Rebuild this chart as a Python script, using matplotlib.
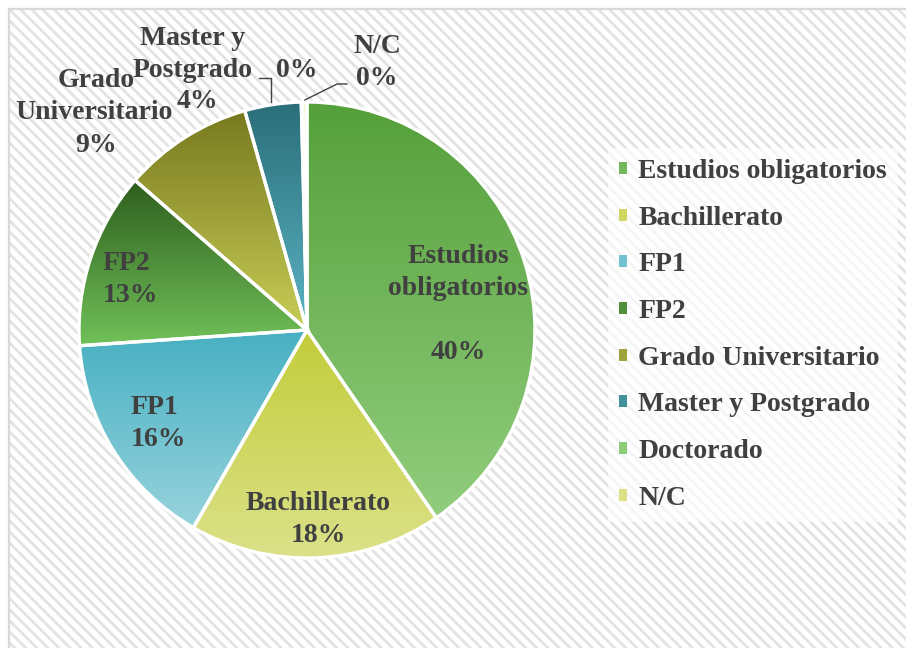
import numpy as np
import matplotlib
matplotlib.use("Agg")
import matplotlib.pyplot as plt
from matplotlib.patches import Rectangle, Patch
from matplotlib.colors import LinearSegmentedColormap, to_rgb

# data (percent of respondents)
categories = ["Estudios obligatorios", "Bachillerato", "FP1", "FP2",
              "Grado Universitario", "Master y Postgrado", "Doctorado", "N/C"]
shares = [40.4, 17.9, 15.6, 12.5, 9.2, 4.0, 0.1, 0.3]
pct_labels = ["40%", "18%", "16%", "13%", "9%", "4%", "0%", "0%"]

# gradient colours per slice (top -> bottom)
top_colors = ["#55a03b", "#c3cd3a", "#47b0c2", "#2e5e1e",
              "#77791f", "#2a6e79", "#7cc467", "#d4dc6e"]
bottom_colors = ["#91cd7d", "#dbe189", "#97d3dd", "#71c159",
                 "#c9cd56", "#5cb4c4", "#9bd689", "#e1e69a"]

plt.rcParams["font.family"] = ["Liberation Serif", "DejaVu Serif"]
plt.rcParams["font.weight"] = "bold"
plt.rcParams["hatch.color"] = "#e3e3e3"
plt.rcParams["hatch.linewidth"] = 2.0
text_color = "#404040"

W, H = 906, 648
fig = plt.figure(figsize=(W / 100, H / 100), dpi=100)
fig.patch.set_facecolor("white")

# hatched chart area + light frame
fig.patches.append(Rectangle((9 / W, -0.01), 1.0, (H - 9) / H + 0.01,
                             transform=fig.transFigure, facecolor="white",
                             edgecolor="#e3e3e3", hatch="\\\\\\", lw=0, zorder=-3))
fig.patches.append(Rectangle((9 / W, -0.01), 1.0, (H - 9) / H + 0.01,
                             transform=fig.transFigure, facecolor="none",
                             edgecolor="#d9d9d9", lw=1.6, zorder=-2))

# pie axes: centre (307, 330) px, radius 228 px
cx, cy, r = 307, 330, 228
ax = fig.add_axes([(cx - r) / W, (H - cy - r) / H, 2 * r / W, 2 * r / H])
ax.set_axis_off()
ax.patch.set_alpha(0)

wedges, _ = ax.pie(shares, startangle=90, counterclock=False, radius=1,
                   wedgeprops=dict(edgecolor="white", linewidth=2.4))

grad = np.linspace(0, 1, 256).reshape(-1, 1)
for w, c0, c1 in zip(wedges, top_colors, bottom_colors):
    t = np.radians(np.linspace(w.theta1, w.theta2, 200))
    xs = np.concatenate([[0], np.cos(t)])
    ys = np.concatenate([[0], np.sin(t)])
    cmap = LinearSegmentedColormap.from_list("g", [c0, c1])
    im = ax.imshow(grad, cmap=cmap, aspect="auto", origin="upper",
                   extent=[xs.min(), xs.max(), ys.min(), ys.max()], zorder=2)
    im.set_clip_path(w)
    w.set_facecolor("none")
    w.set_zorder(3)

ax.set_xlim(-1, 1)
ax.set_ylim(-1, 1)

lab = dict(color=text_color, fontsize=20, fontweight="bold", linespacing=1.36,
           va="center", zorder=5)
ax.text(0.662, 0.112, "Estudios\nobligatorios\n\n" + pct_labels[0], ha="center", **lab)
ax.text(0.048, -0.83, "Bachillerato\n" + pct_labels[1], ha="center", **lab)
ax.text(-0.772, -0.41, "FP1\n" + pct_labels[2], ha="left", **lab)
ax.text(-0.895, 0.222, "FP2\n" + pct_labels[3], ha="left", **lab)
# outer labels on the crowded top-left, one text per line
ax.text(-0.925, 1.094, "Grado", ha="center", **lab)
ax.text(-0.935, 0.954, "Universitario", ha="center", **lab)
ax.text(-0.925, 0.81, pct_labels[4], ha="center", **lab)
ax.text(-0.5, 1.28, "Master y", ha="center", **lab)
ax.text(-0.5, 1.14, "Postgrado", ha="center", **lab)
ax.text(-0.48, 1.0, pct_labels[5], ha="center", **lab)
ax.text(-0.044, 1.14, pct_labels[6], ha="center", **lab)
ax.text(0.307, 1.175, "N/C\n" + pct_labels[7], ha="center", **lab)

# leader lines
ax.plot([-0.158, -0.158, -0.211], [1.0, 1.105, 1.105], color=text_color,
        lw=1, clip_on=False, zorder=4)
ax.plot([-0.009, 0.132, 0.175], [1.009, 1.079, 1.079], color=text_color,
        lw=1, clip_on=False, zorder=4)

mid_colors = [(np.array(to_rgb(a)) + np.array(to_rgb(b))) / 2
              for a, b in zip(top_colors, bottom_colors)]
handles = [Patch(facecolor=c, edgecolor="none") for c in mid_colors]
leg = fig.legend(handles, categories, loc="upper left",
                 bbox_to_anchor=(594 / W, 1 - 134 / H), frameon=True,
                 fontsize=20, labelspacing=0.78, handlelength=0.3,
                 handleheight=0.3, handletextpad=0.4, borderpad=0.4,
                 fancybox=False)
leg.get_frame().set_facecolor("white")
leg.get_frame().set_alpha(0.65)
leg.get_frame().set_edgecolor("none")
for t in leg.get_texts():
    t.set_color(text_color)
    t.set_fontweight("bold")

fig.savefig("out.png", dpi=100)
